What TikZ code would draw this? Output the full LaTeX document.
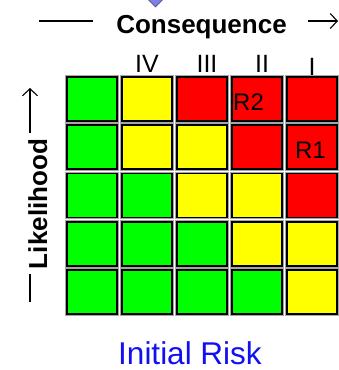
\documentclass[tikz,border=0pt]{standalone}
\usepackage{fontspec}
\setmainfont{Liberation Sans}
\usetikzlibrary{shapes.geometric,arrows.meta}
\definecolor{riskgreen}{RGB}{0,255,0}
\definecolor{riskyellow}{RGB}{255,255,0}
\definecolor{riskred}{RGB}{255,0,0}
\definecolor{markfill}{RGB}{128,128,226}
\definecolor{titleblue}{RGB}{16,16,240}
\tikzset{
  cell/.style={draw=black, line width=1.6pt, minimum width=50pt, minimum height=44pt,
    inner sep=0pt, preaction={draw=black!35, line width=3.8pt}},
  axislabel/.style={font=\fontsize{26}{30}\selectfont\bfseries, inner sep=0pt},
  numeral/.style={font=\fontsize{25}{29}\selectfont, anchor=base, inner sep=0pt},
  tag/.style={font=\fontsize{24}{28}\selectfont, anchor=base west, inner sep=0pt},
  axisline/.style={line width=1.1pt},
  axisarrow/.style={line width=1.1pt, -{Straight Barb[length=7pt,width=15pt]}}
}
\begin{document}
\begin{tikzpicture}[x=1pt,y=-1pt]
    \useasboundingbox (0,0) rectangle (339,370);
    \node[diamond, fill=markfill, draw=markfill!60!black, line width=0.6pt,
          minimum size=18pt, inner sep=0pt] (mark) at (155.5,-2) {};

    % consequence axis
    \draw[axisline] (39,21) -- (93,21);
    \node[axislabel, anchor=base] (cons) at (201.5,33) {Consequence};
    \draw[axisarrow] (308,21) -- (338,21);
    \node[numeral] (n4) at (147,72) {IV};
    \node[numeral] (n3) at (207,72) {III};
    \node[numeral] (n2) at (262,72) {II};
    \node[numeral] (n1) at (312,75) {I};

    % likelihood axis
    \draw[axisline] (30,302) -- (30,274);
    \node[axislabel, anchor=base, rotate=90] (like) at (47,204) {Likelihood};
    \draw[axisarrow] (30,133) -- (30,88);

    % risk matrix, rows top to bottom
    \foreach \cols [count=\row] in {{green,yellow,red,red,red},{green,yellow,yellow,red,red},
        {green,green,yellow,yellow,red},{green,green,green,yellow,yellow},
        {green,green,green,green,yellow}}
      \foreach \c [count=\col] in \cols
        \node[cell, fill=risk\c] (c\row\col) at ({37+55*\col},{50.75+48.25*\row}) {};

    \node[tag] (r2) at (233,110) {R2};
    \node[tag] (r1) at (295,158) {R1};

    \node[font=\fontsize{31.5}{36}\selectfont, text=titleblue, anchor=base, inner sep=0pt]
        (title) at (190,364) {Initial Risk};
\end{tikzpicture}
\end{document}
